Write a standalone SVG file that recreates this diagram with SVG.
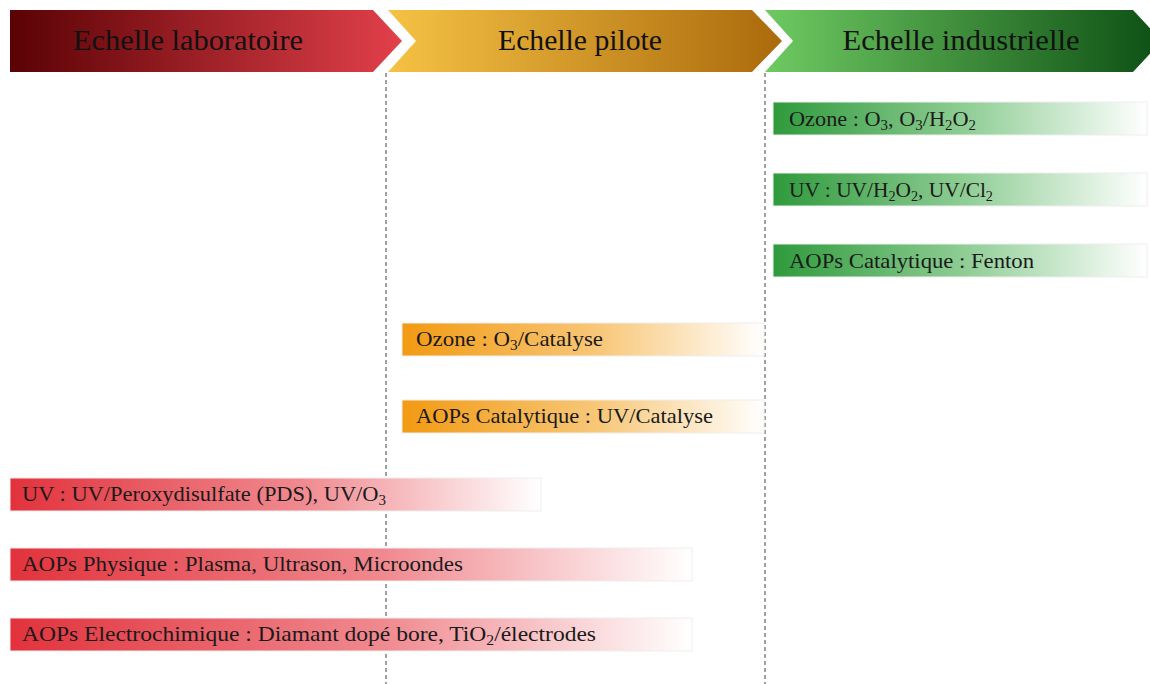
<svg xmlns="http://www.w3.org/2000/svg" width="1150" height="684" viewBox="0 0 1150 684">
<defs>
<linearGradient id="hLab" x1="0" y1="0" x2="1" y2="0"><stop offset="0" stop-color="#5a0205"/><stop offset="1" stop-color="#e2404a"/></linearGradient>
<linearGradient id="hPil" x1="0" y1="0" x2="1" y2="0"><stop offset="0" stop-color="#f5c244"/><stop offset="1" stop-color="#ab6a0c"/></linearGradient>
<linearGradient id="hInd" x1="0" y1="0" x2="1" y2="0"><stop offset="0" stop-color="#6fca62"/><stop offset="1" stop-color="#0d4f14"/></linearGradient>
<linearGradient id="bLab" x1="0" y1="0" x2="1" y2="0"><stop offset="0" stop-color="#e2323c"/><stop offset="0.55" stop-color="#f08a90"/><stop offset="1" stop-color="#ffffff"/></linearGradient>
<linearGradient id="bPil" x1="0" y1="0" x2="1" y2="0"><stop offset="0" stop-color="#f29a12"/><stop offset="0.55" stop-color="#f8c87a"/><stop offset="1" stop-color="#ffffff"/></linearGradient>
<linearGradient id="bInd" x1="0" y1="0" x2="1" y2="0"><stop offset="0" stop-color="#2f9a3c"/><stop offset="0.5" stop-color="#8ccc92"/><stop offset="1" stop-color="#ffffff"/></linearGradient>
</defs>
<style>
.h{font-family:"Liberation Serif","DejaVu Serif",serif;font-size:29px;fill:#111;text-anchor:middle}
.t{font-family:"Liberation Serif","DejaVu Serif",serif;font-size:21px;fill:#1a1a1a}
.s{font-size:14px}
.bar{stroke:#eeeeee;stroke-width:1}
.dash{stroke:#a0a0a0;stroke-width:2;stroke-dasharray:4,3;fill:none}
</style>
<rect width="1150" height="684" fill="#ffffff"/>
<g id="connectors">
<line class="dash" x1="386" y1="73" x2="386" y2="684"/>
<line class="dash" x1="765" y1="73" x2="765" y2="684"/>
</g>
<g id="header-lab">
<path d="M10,10 L373,10 L402,41 L373,72 L10,72 Z" fill="url(#hLab)"/>
<text class="h" x="188" y="50" textLength="230" lengthAdjust="spacingAndGlyphs">Echelle laboratoire</text>
</g>
<g id="header-pilote">
<path d="M388,10 L752,10 L782,41 L752,72 L388,72 L416,41 Z" fill="url(#hPil)"/>
<text class="h" x="580" y="50" textLength="164" lengthAdjust="spacingAndGlyphs">Echelle pilote</text>
</g>
<g id="header-industrielle">
<path d="M765,10 L1133,10 L1162,41 L1133,72 L765,72 L793,41 Z" fill="url(#hInd)"/>
<text class="h" x="961" y="50" textLength="237" lengthAdjust="spacingAndGlyphs">Echelle industrielle</text>
</g>
<g id="ind-ozone">
<rect class="bar" x="773" y="102" width="374" height="33" fill="url(#bInd)"/>
<text class="t" x="789" y="126" textLength="187" lengthAdjust="spacingAndGlyphs">Ozone : O<tspan class="s" dy="4">3</tspan><tspan dy="-4">, O</tspan><tspan class="s" dy="4">3</tspan><tspan dy="-4">/H</tspan><tspan class="s" dy="4">2</tspan><tspan dy="-4">O</tspan><tspan class="s" dy="4">2</tspan></text>
</g>
<g id="ind-uv">
<rect class="bar" x="773" y="173" width="374" height="33" fill="url(#bInd)"/>
<text class="t" x="789" y="197" textLength="204" lengthAdjust="spacingAndGlyphs">UV : UV/H<tspan class="s" dy="4">2</tspan><tspan dy="-4">O</tspan><tspan class="s" dy="4">2</tspan><tspan dy="-4">, UV/Cl</tspan><tspan class="s" dy="4">2</tspan></text>
</g>
<g id="ind-fenton">
<rect class="bar" x="773" y="244" width="374" height="33" fill="url(#bInd)"/>
<text class="t" x="789" y="268" textLength="245" lengthAdjust="spacingAndGlyphs">AOPs Catalytique : Fenton</text>
</g>
<g id="pil-ozone">
<rect class="bar" x="402" y="323" width="362" height="33" fill="url(#bPil)"/>
<text class="t" x="416" y="346" textLength="187" lengthAdjust="spacingAndGlyphs">Ozone : O<tspan class="s" dy="4">3</tspan><tspan dy="-4">/Catalyse</tspan></text>
</g>
<g id="pil-uv">
<rect class="bar" x="402" y="400" width="362" height="33" fill="url(#bPil)"/>
<text class="t" x="416" y="423" textLength="297" lengthAdjust="spacingAndGlyphs">AOPs Catalytique : UV/Catalyse</text>
</g>
<g id="lab-uv">
<rect class="bar" x="10" y="478" width="531" height="33" fill="url(#bLab)"/>
<text class="t" x="22" y="501" textLength="364" lengthAdjust="spacingAndGlyphs">UV : UV/Peroxydisulfate (PDS), UV/O<tspan class="s" dy="4">3</tspan></text>
</g>
<g id="lab-physique">
<rect class="bar" x="10" y="548" width="682" height="33" fill="url(#bLab)"/>
<text class="t" x="22" y="571" textLength="441" lengthAdjust="spacingAndGlyphs">AOPs Physique : Plasma, Ultrason, Microondes</text>
</g>
<g id="lab-electro">
<rect class="bar" x="10" y="618" width="682" height="33" fill="url(#bLab)"/>
<text class="t" x="22" y="641" textLength="574" lengthAdjust="spacingAndGlyphs">AOPs Electrochimique : Diamant dopé bore, TiO<tspan class="s" dy="4">2</tspan><tspan dy="-4">/électrodes</tspan></text>
</g>
</svg>
